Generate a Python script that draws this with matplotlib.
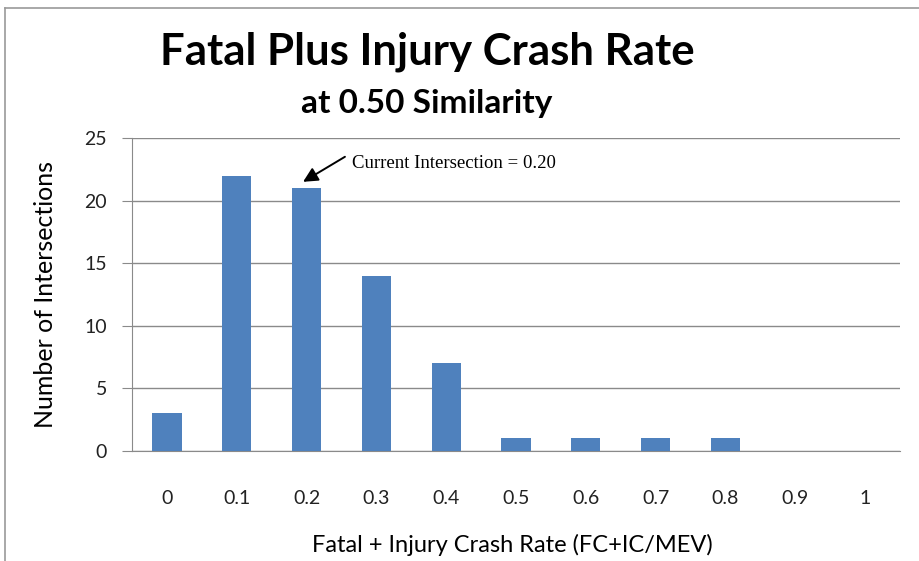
import numpy as np
import matplotlib
matplotlib.use("Agg")
import matplotlib.pyplot as plt
from matplotlib.lines import Line2D

# histogram of crash rates
rate_labels = ["0", "0.1", "0.2", "0.3", "0.4", "0.5", "0.6", "0.7", "0.8", "0.9", "1"]
counts = [3, 22, 21, 14, 7, 1, 1, 1, 1, 0, 0]
current_idx = 2
y_ticks = [0, 5, 10, 15, 20, 25]

plt.rcParams['font.family'] = ['Lato', 'DejaVu Sans']

fig = plt.figure(figsize=(9.2, 5.61), dpi=100)
ax = fig.add_axes([132 / 920, 1 - 451 / 561, (900 - 132) / 920, (451 - 138) / 561])

x = np.arange(len(counts))
ax.bar(x, counts, width=0.42, color="#4F81BD", zorder=3)

ax.set_xlim(-0.5, len(counts) - 0.5)
ax.set_ylim(0, 25)
ax.set_yticks(y_ticks)
ax.set_xticks(x)
ax.set_xticklabels(rate_labels)
ax.grid(axis="y", color="#8a8a8a", linewidth=1, zorder=0)

for s in ["top", "right"]:
    ax.spines[s].set_visible(False)
ax.spines["left"].set_color("#8a8a8a")
ax.spines["bottom"].set_color("#8a8a8a")
ax.tick_params(axis="y", length=7, color="#8a8a8a", labelsize=14, labelcolor="#222222", pad=11)
ax.tick_params(axis="x", length=0, labelsize=14, labelcolor="#222222", pad=28)

ax.set_ylabel("Number of Intersections", fontsize=18, va="center")
ax.yaxis.set_label_coords(-0.113, 0.5)
ax.set_xlabel("Fatal + Injury Crash Rate (FC+IC/MEV)", fontsize=17, va="center")
ax.xaxis.set_label_coords(0.495, -0.30)

fig.text(427 / 920, 1 - 52 / 561, "Fatal Plus Injury Crash Rate", fontsize=31.5, fontweight="bold",
         ha="center", va="center")
fig.text(427 / 920, 1 - 103 / 561, "at 0.50 Similarity", fontsize=24, fontweight="bold",
         ha="center", va="center")

# arrow pointing at the current intersection's bar
ax.annotate("", xy=(current_idx - 0.05, counts[current_idx] + 0.5),
            xytext=(current_idx + 0.55, counts[current_idx] + 2.5),
            arrowprops=dict(arrowstyle="-|>", color="black", lw=1.4, mutation_scale=22,
                            shrinkA=0, shrinkB=0))
ax.text(current_idx + 0.65, counts[current_idx] + 2.0, "Current Intersection = 0.20",
        fontsize=13.5, family="Liberation Serif", va="center", ha="left")

# chart frame
fig.add_artist(Line2D([5 / 920, 5 / 920], [0, 1 - 8 / 561], transform=fig.transFigure,
                      color="#9a9a9a", lw=1.2))
fig.add_artist(Line2D([5 / 920, 1], [1 - 8 / 561, 1 - 8 / 561], transform=fig.transFigure,
                      color="#9a9a9a", lw=1.2))

fig.savefig("out.png", dpi=100)
